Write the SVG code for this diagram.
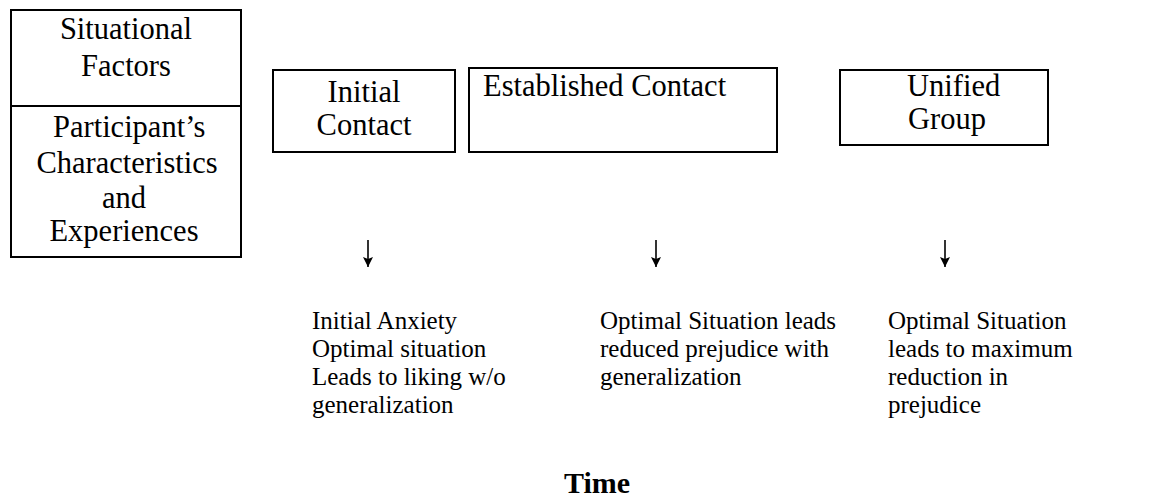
<svg xmlns="http://www.w3.org/2000/svg" width="1176" height="503" viewBox="0 0 1176 503">
<style>
.box{fill:#fff;stroke:#000;stroke-width:2}
.t{font-family:"Liberation Serif","Times New Roman",serif;font-size:30.5px;fill:#000}
.s{font-family:"Liberation Serif","Times New Roman",serif;font-size:25px;fill:#000}
.b{font-family:"Liberation Serif","Times New Roman",serif;font-size:30px;font-weight:bold;fill:#000}
.c{text-anchor:middle}
.arr{stroke:#000;stroke-width:1.6;fill:none;marker-end:url(#ah)}
</style>
<defs>
<marker id="ah" viewBox="0 0 10 10" refX="10" refY="5" markerWidth="10" markerHeight="10" markerUnits="userSpaceOnUse" orient="auto">
<path d="M0,0 L10,5 L0,10 L2,5 Z" fill="#000"/>
</marker>
</defs>
<rect width="1176" height="503" fill="#fff"/>
<g id="situational">
<rect class="box" x="11" y="10" width="230" height="96"/>
<text class="t c" x="126" y="39">Situational</text>
<text class="t c" x="126" y="76">Factors</text>
</g>
<g id="participant">
<rect class="box" x="11" y="106" width="230" height="151"/>
<text class="t" x="53" y="137">Participant’s</text>
<text class="t c" x="127" y="173">Characteristics</text>
<text class="t c" x="124" y="208">and</text>
<text class="t c" x="124" y="241">Experiences</text>
</g>
<g id="initial">
<rect class="box" x="273" y="70" width="182" height="82"/>
<text class="t c" x="364" y="102">Initial</text>
<text class="t c" x="364" y="135">Contact</text>
</g>
<g id="established">
<rect class="box" x="469" y="68" width="308" height="84"/>
<text class="t" x="483" y="96">Established Contact</text>
</g>
<g id="unified">
<rect class="box" x="840" y="70" width="208" height="75"/>
<text class="t" x="907" y="96">Unified</text>
<text class="t" x="908" y="129">Group</text>
</g>
<g id="connectors">
<line class="arr" x1="368" y1="240" x2="368" y2="267"/>
<line class="arr" x1="656" y1="240" x2="656" y2="267"/>
<line class="arr" x1="945" y1="240" x2="945" y2="267"/>
</g>
<g id="note1">
<text class="s" x="312" y="329">Initial Anxiety</text>
<text class="s" x="312" y="357">Optimal situation</text>
<text class="s" x="312" y="385">Leads to liking w/o</text>
<text class="s" x="312" y="413">generalization</text>
</g>
<g id="note2">
<text class="s" x="600" y="329">Optimal Situation leads</text>
<text class="s" x="600" y="357">reduced prejudice with</text>
<text class="s" x="600" y="385">generalization</text>
</g>
<g id="note3">
<text class="s" x="888" y="329">Optimal Situation</text>
<text class="s" x="888" y="357">leads to maximum</text>
<text class="s" x="888" y="385">reduction in</text>
<text class="s" x="888" y="413">prejudice</text>
</g>
<g id="time">
<text class="b c" x="597" y="493">Time</text>
</g>
</svg>
